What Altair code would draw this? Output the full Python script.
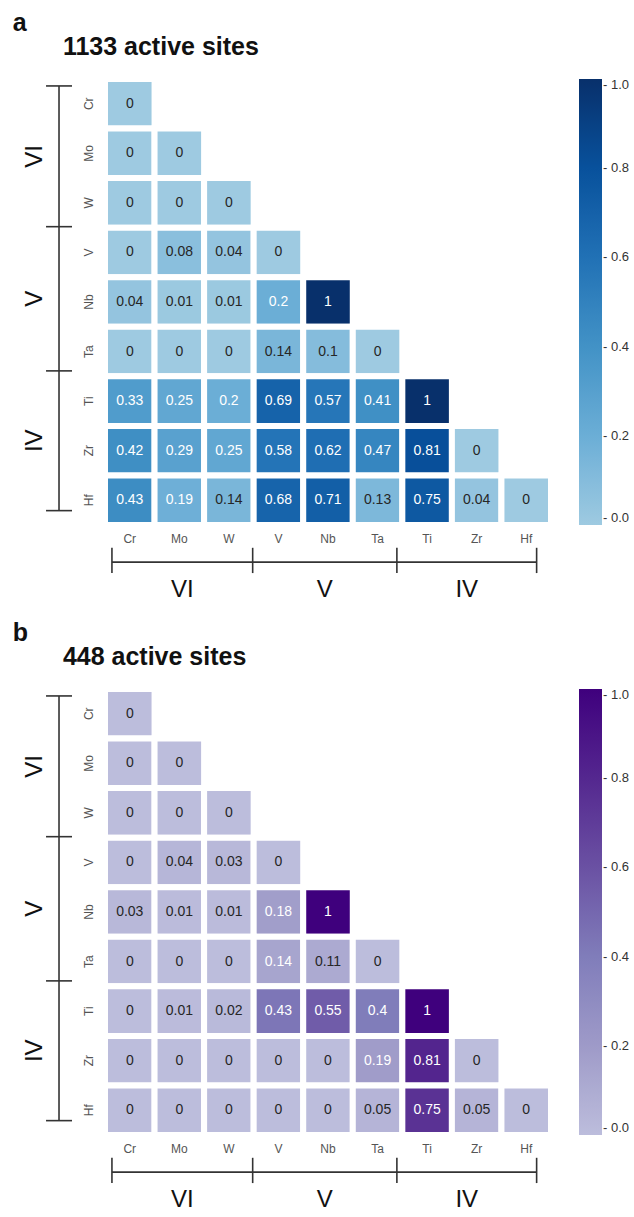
import altair as alt
import pandas as pd

# Elements ordered by group (VI, V, IV), used for both rows and columns
elements = ["Cr", "Mo", "W", "V", "Nb", "Ta", "Ti", "Zr", "Hf"]
groups = ["VI", "V", "IV"]

titles = ["1133 active sites", "448 active sites"]
letters = ["a", "b"]

# Lower-triangular matrices, one list per row (row element x column element)
values_a = [
    [0],
    [0, 0],
    [0, 0, 0],
    [0, 0.08, 0.04, 0],
    [0.04, 0.01, 0.01, 0.2, 1],
    [0, 0, 0, 0.14, 0.1, 0],
    [0.33, 0.25, 0.2, 0.69, 0.57, 0.41, 1],
    [0.42, 0.29, 0.25, 0.58, 0.62, 0.47, 0.81, 0],
    [0.43, 0.19, 0.14, 0.68, 0.71, 0.13, 0.75, 0.04, 0],
]
values_b = [
    [0],
    [0, 0],
    [0, 0, 0],
    [0, 0.04, 0.03, 0],
    [0.03, 0.01, 0.01, 0.18, 1],
    [0, 0, 0, 0.14, 0.11, 0],
    [0, 0.01, 0.02, 0.43, 0.55, 0.4, 1],
    [0, 0, 0, 0, 0, 0.19, 0.81, 0],
    [0, 0, 0, 0, 0, 0.05, 0.75, 0.05, 0],
]
legend_ticks = [0.0, 0.2, 0.4, 0.6, 0.8, 1.0]

# Upper part of the ColorBrewer Blues / Purples ramps (light -> dark)
blues = ["#9ecae1", "#6baed6", "#4292c6", "#2171b5", "#08519c", "#08306b"]
purples = ["#bcbddc", "#9e9ac8", "#807dba", "#6a51a3", "#54278f", "#3f007d"]

# ---- layout (in cell units unless noted) ----
W = 446                      # plot width in px (9 cells)
H = 1056                     # plot height in px (both panels)
CELL = W / 9
PANEL_SHIFT = 610 / CELL     # vertical offset of the second panel
EDGES = [0.14, 2.98, 5.89, 8.71]   # bracket tick positions along each axis
INK = "#333333"
FONT = "Liberation Sans"

xs = alt.Scale(domain=[0, 9], nice=False, zero=False)
ys = alt.Scale(domain=[0, H / CELL], reverse=True, nice=False, zero=False)


def X(field):
    return alt.X(field, type="quantitative", scale=xs, axis=None)


def Y(field):
    return alt.Y(field, type="quantitative", scale=ys, axis=None)


def panel(rows, title, letter, ramp, text_threshold, shift):
    cells = pd.DataFrame(
        [
            {"row": r, "col": c, "value": v, "label": f"{v:g}"}
            for r, row in enumerate(rows)
            for c, v in enumerate(row)
        ]
    )
    cells["x0"] = cells["col"]
    cells["x1"] = cells["col"] + 1
    cells["y0"] = cells["row"] + shift
    cells["y1"] = cells["row"] + 1 + shift
    cells["xc"] = cells["col"] + 0.5
    cells["yc"] = cells["row"] + 0.5 + shift

    heat = alt.Chart(cells).mark_rect(stroke="white", strokeWidth=6).encode(
        x=X("x0"),
        x2="x1:Q",
        y=Y("y0"),
        y2="y1:Q",
        color=alt.Color(
            "value:Q",
            scale=alt.Scale(
                domain=[i / (len(ramp) - 1) for i in range(len(ramp))],
                range=ramp,
                interpolate="rgb",
            ),
            legend=alt.Legend(
                orient="none",
                legendX=474,
                legendY=shift * CELL,
                direction="vertical",
                gradientLength=446,
                gradientThickness=23,
                gradientStrokeWidth=0,
                values=legend_ticks,
                labelExpr="'- ' + format(datum.value, '.1f')",
                labelFont=FONT,
                labelFontSize=13,
                labelColor=INK,
                labelBaseline="middle",
                labelOverlap=False,
                labelOffset=1,
                padding=0,
                title=None,
            ),
        ),
    )

    numbers = alt.Chart(cells).mark_text(fontSize=14, font=FONT).encode(
        x=X("xc"),
        y=Y("yc"),
        text="label:N",
        color=alt.condition(
            f"datum.value > {text_threshold}",
            alt.value("white"),
            alt.value("#262626"),
        ),
    )

    names = pd.DataFrame({"name": elements, "i": range(len(elements))})
    names["pos"] = names["i"] + 0.5
    names["left_x"] = -0.32
    names["left_y"] = names["pos"] + shift
    names["bottom_y"] = 9.28 + shift

    left_names = alt.Chart(names).mark_text(
        angle=270, fontSize=12, color="#555555", font=FONT
    ).encode(x=X("left_x"), y=Y("left_y"), text="name:N")

    bottom_names = alt.Chart(names).mark_text(
        fontSize=12, color="#555555", font=FONT
    ).encode(x=X("pos"), y=Y("bottom_y"), text="name:N")

    # group brackets on the left and below
    ticks = pd.DataFrame({"e": EDGES})
    ticks["ey"] = ticks["e"] + shift
    ticks["lx0"] = -1.19
    ticks["lx1"] = -0.666
    ticks["by0"] = 9.46 + shift
    ticks["by1"] = 9.97 + shift

    spines = pd.DataFrame(
        {
            "lx": [-0.928],
            "ly0": [EDGES[0] + shift],
            "ly1": [EDGES[-1] + shift],
            "bx0": [EDGES[0]],
            "bx1": [EDGES[-1]],
            "by": [9.75 + shift],
        }
    )

    gl = pd.DataFrame({"g": groups})
    gl["mid"] = [(EDGES[k] + EDGES[k + 1]) / 2 for k in range(len(groups))]
    gl["left_x"] = -1.41
    gl["left_y"] = gl["mid"] + shift
    gl["bottom_y"] = 10.31 + shift

    rule_style = dict(color=INK, strokeWidth=1.6)
    left_spine = alt.Chart(spines).mark_rule(**rule_style).encode(
        x=X("lx"), y=Y("ly0"), y2="ly1:Q"
    )
    left_ticks = alt.Chart(ticks).mark_rule(**rule_style).encode(
        x=X("lx0"), x2="lx1:Q", y=Y("ey")
    )
    bottom_spine = alt.Chart(spines).mark_rule(**rule_style).encode(
        x=X("bx0"), x2="bx1:Q", y=Y("by")
    )
    bottom_ticks = alt.Chart(ticks).mark_rule(**rule_style).encode(
        x=X("e"), y=Y("by0"), y2="by1:Q"
    )
    left_groups = alt.Chart(gl).mark_text(
        angle=270, fontSize=24, color="#111111", font=FONT
    ).encode(x=X("left_x"), y=Y("left_y"), text="g:N")
    bottom_groups = alt.Chart(gl).mark_text(
        fontSize=24, color="#111111", font=FONT
    ).encode(x=X("mid"), y=Y("bottom_y"), text="g:N")

    heads = pd.DataFrame(
        {
            "t": [letter, title],
            "x": [-1.86, -0.85],
            "y": [-1.13 + shift, -0.646 + shift],
        }
    )
    header = alt.Chart(heads).mark_text(
        align="left", fontSize=25, fontWeight="bold", color="#111111", font=FONT
    ).encode(x=X("x"), y=Y("y"), text="t:N")

    return [
        heat,
        numbers,
        left_names,
        bottom_names,
        left_spine,
        left_ticks,
        bottom_spine,
        bottom_ticks,
        left_groups,
        bottom_groups,
        header,
    ]


layers = panel(values_a, titles[0], letters[0], blues, 0.16, 0.0) + panel(
    values_b, titles[1], letters[1], purples, 0.12, PANEL_SHIFT
)

chart = (
    alt.layer(*layers)
    .resolve_scale(color="independent")
    .properties(
        width=W,
        height=H,
        autosize=alt.AutoSizeParams(type="none"),
        padding={"left": 105, "top": 79, "right": 83, "bottom": 82},
        background="white",
    )
    .configure(font=FONT)
    .configure_view(strokeWidth=0)
)

chart.save("out.html", embed_options={"renderer": "svg", "actions": False})
